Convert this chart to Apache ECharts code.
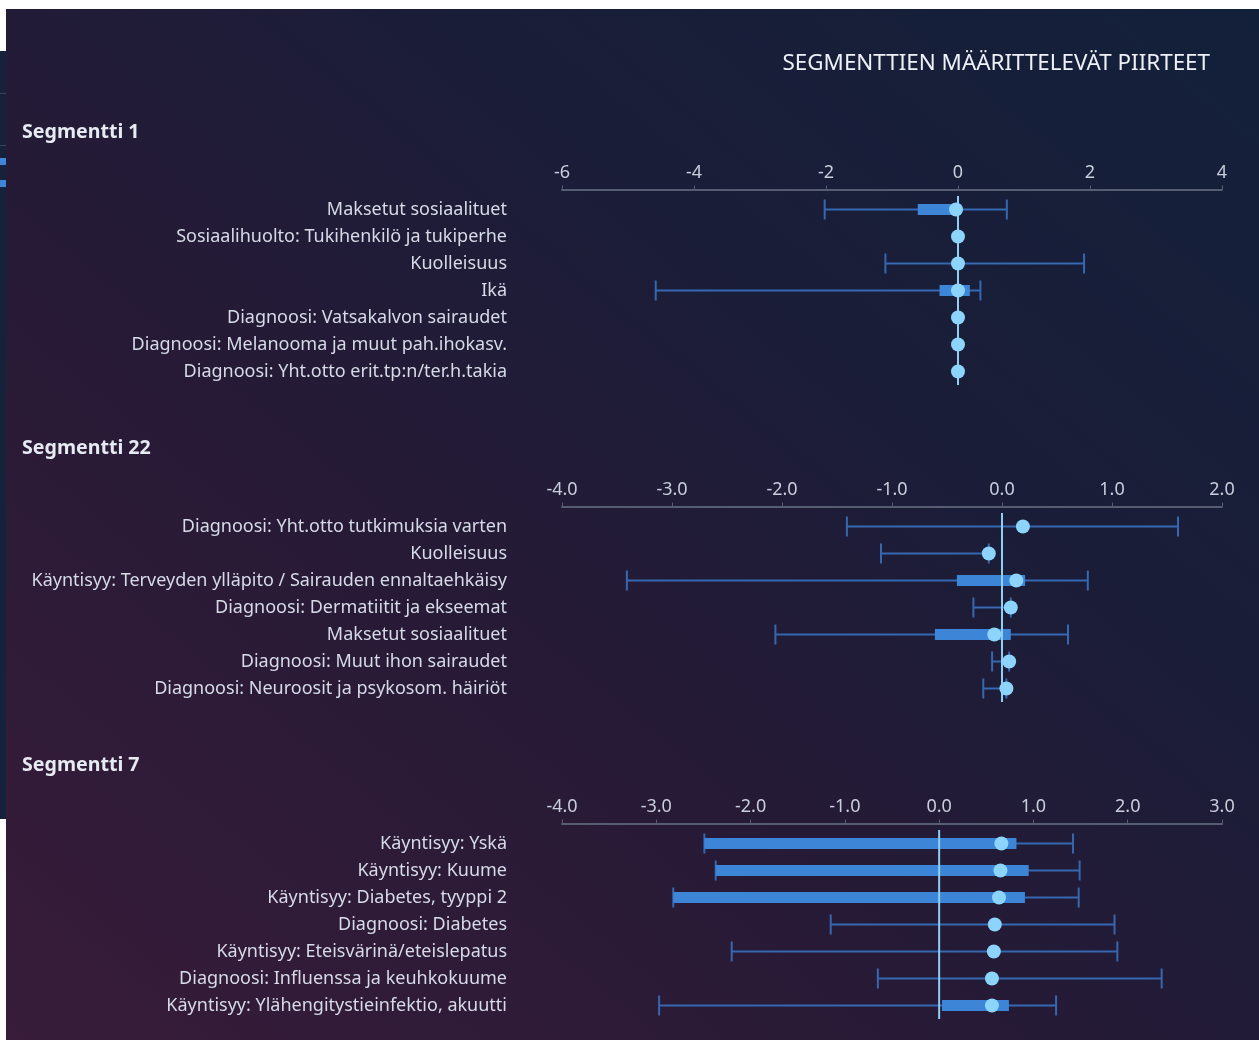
<!DOCTYPE html>
<html>
<head>
<meta charset="utf-8">
<title>Segmenttien määrittelevät piirteet</title>
<script src="https://cdn.jsdelivr.net/npm/echarts@6/dist/echarts.min.js"></script>
<style>
  html, body { margin: 0; padding: 0; background: #fff; width: 1259px; height: 1040px; overflow: hidden; }
  #side { position: absolute; left: 0; top: 51px; width: 6px; height: 768px; background: #16213a; }
  .sl { position: absolute; left: 0; width: 6px; height: 1px; background: #3d4458; }
  .sb { position: absolute; left: 0; width: 6px; height: 7px; background: #3d86d9; }
  #chart {
    position: absolute; left: 6px; top: 9px; width: 1253px; height: 1031px;
    background: linear-gradient(to top right, #381c39 0%, #261a36 40%, #1b1d38 65%, #13203a 100%);
  }
</style>
</head>
<body>
<div id="side">
  <div class="sl" style="top:42px"></div>
  <div class="sl" style="top:94px"></div>
  <div class="sb" style="top:107px"></div>
  <div class="sb" style="top:129px"></div>
</div>
<div id="chart"></div>
<script>
// Segmentti 1
const seg1Labels = ['Maksetut sosiaalituet', 'Sosiaalihuolto: Tukihenkilö ja tukiperhe', 'Kuolleisuus', 'Ikä',
  'Diagnoosi: Vatsakalvon sairaudet', 'Diagnoosi: Melanooma ja muut pah.ihokasv.', 'Diagnoosi: Yht.otto erit.tp:n/ter.h.takia']
const seg1Point = [-0.03, 0, 0, 0, 0, 0, 0]
const seg1Low = [-2.02, 0, -1.1, -4.58, 0, 0, 0]
const seg1High = [0.74, 0, 1.91, 0.34, 0, 0, 0]
const seg1BarLow = [-0.61, null, null, -0.28, null, null, null]
const seg1BarHigh = [0, null, null, 0.18, null, null, null]
const seg1Ticks = [-6, 4, 2]

// Segmentti 22
const seg22Labels = ['Diagnoosi: Yht.otto tutkimuksia varten', 'Kuolleisuus',
  'Käyntisyy: Terveyden ylläpito / Sairauden ennaltaehkäisy', 'Diagnoosi: Dermatiitit ja ekseemat',
  'Maksetut sosiaalituet', 'Diagnoosi: Muut ihon sairaudet', 'Diagnoosi: Neuroosit ja psykosom. häiriöt']
const seg22Point = [0.19, -0.12, 0.13, 0.08, -0.07, 0.065, 0.04]
const seg22Low = [-1.41, -1.10, -3.41, -0.26, -2.06, -0.09, -0.17]
const seg22High = [1.60, -0.12, 0.78, 0.08, 0.60, 0.065, 0.04]
const seg22BarLow = [null, null, -0.41, null, -0.61, null, null]
const seg22BarHigh = [null, null, 0.21, null, 0.08, null, null]
const seg22Ticks = [-4, 2, 1]

// Segmentti 7
const seg7Labels = ['Käyntisyy: Yskä', 'Käyntisyy: Kuume', 'Käyntisyy: Diabetes, tyyppi 2', 'Diagnoosi: Diabetes',
  'Käyntisyy: Eteisvärinä/eteislepatus', 'Diagnoosi: Influenssa ja keuhkokuume', 'Käyntisyy: Ylähengitystieinfektio, akuutti']
const seg7Point = [0.66, 0.65, 0.635, 0.59, 0.58, 0.56, 0.56]
const seg7Low = [-2.49, -2.37, -2.82, -1.15, -2.20, -0.65, -2.97]
const seg7High = [1.42, 1.49, 1.48, 1.86, 1.89, 2.36, 1.24]
const seg7BarLow = [-2.49, -2.37, -2.82, null, null, null, 0.03]
const seg7BarHigh = [0.82, 0.95, 0.91, null, null, null, 0.74]
const seg7Ticks = [-4, 3, 1]

const segNames = ['Segmentti 1', 'Segmentti 22', 'Segmentti 7']

const FONT = 'Noto Sans'
const segs = [
  {labels: seg1Labels, point: seg1Point, low: seg1Low, high: seg1High, bl: seg1BarLow, bh: seg1BarHigh, ticks: seg1Ticks, top: 187, dec: 0},
  {labels: seg22Labels, point: seg22Point, low: seg22Low, high: seg22High, bl: seg22BarLow, bh: seg22BarHigh, ticks: seg22Ticks, top: 504, dec: 1},
  {labels: seg7Labels, point: seg7Point, low: seg7Low, high: seg7High, bl: seg7BarLow, bh: seg7BarHigh, ticks: seg7Ticks, top: 821, dec: 1}
]
const titleTops = [113, 429, 746]

let chart = echarts.init(document.getElementById('chart'))

// one row: whisker + caps + optional thick bar. data = [low, idx, high, barLow, barHigh]
function renderRow(params, api) {
  let y = api.value(1)
  let lo = api.coord([api.value(0), y])
  let hi = api.coord([api.value(2), y])
  let st = {stroke: '#3568b1', lineWidth: 2}
  let children = [
    {type: 'line', shape: {x1: lo[0], y1: lo[1], x2: hi[0], y2: hi[1]}, style: st},
    {type: 'line', shape: {x1: lo[0], y1: lo[1] - 10, x2: lo[0], y2: lo[1] + 10}, style: st},
    {type: 'line', shape: {x1: hi[0], y1: hi[1] - 10, x2: hi[0], y2: hi[1] + 10}, style: st}
  ]
  let b0v = api.value(3), b1v = api.value(4)
  if (!isNaN(b0v) && !isNaN(b1v)) {
    let b0 = api.coord([b0v, y])
    let b1 = api.coord([b1v, y])
    children.push({type: 'rect', shape: {x: b0[0], y: b0[1] - 5.5, width: b1[0] - b0[0], height: 11}, style: {fill: '#3d85d7'}})
  }
  return {type: 'group', children: children}
}

// zero line over the full band range. data = [0, firstIdx, lastIdx]
function renderZero(params, api) {
  let band = api.size([0, 1])[1]
  let p0 = api.coord([api.value(0), api.value(1)])
  let p1 = api.coord([api.value(0), api.value(2)])
  return {
    type: 'line',
    shape: {x1: p0[0], y1: p0[1] - band / 2, x2: p1[0], y2: p1[1] + band / 2},
    style: {stroke: '#8ed0f4', lineWidth: 2}
  }
}

let grid = [], xAxis = [], yAxis = [], series = []
segs.forEach((s, i) => {
  grid.push({left: 556, right: 37, top: s.top, height: 189})
  xAxis.push({
    type: 'value', gridIndex: i, position: 'top', offset: 6.5,
    min: s.ticks[0], max: s.ticks[1], interval: s.ticks[2],
    axisLine: {show: true, lineStyle: {color: '#565d70', width: 2}},
    axisTick: {show: true, length: 4, lineStyle: {color: '#565d70'}},
    splitLine: {show: false},
    axisLabel: {
      color: '#c8cedc', fontSize: 18, fontFamily: FONT, margin: 8,
      formatter: v => (Math.abs(v) < 1e-9 ? 0 : v).toFixed(s.dec)
    }
  })
  yAxis.push({
    type: 'category', gridIndex: i, inverse: true, data: s.labels,
    axisLine: {show: false}, axisTick: {show: false},
    axisLabel: {color: '#d6dbe7', fontSize: 18, fontFamily: FONT, margin: 55}
  })
  series.push({
    type: 'custom', xAxisIndex: i, yAxisIndex: i, silent: true,
    renderItem: renderRow,
    data: s.labels.map((l, k) => [s.low[k], k, s.high[k], s.bl[k] == null ? '-' : s.bl[k], s.bh[k] == null ? '-' : s.bh[k]]),
    z: 2
  })
  series.push({
    type: 'custom', xAxisIndex: i, yAxisIndex: i, silent: true,
    renderItem: renderZero,
    data: [[0, 0, s.labels.length - 1]],
    z: 3
  })
  series.push({
    type: 'scatter', xAxisIndex: i, yAxisIndex: i, silent: true,
    symbolSize: 14, itemStyle: {color: '#8cd4fb', opacity: 1},
    data: s.point.map((v, k) => [v, k]),
    z: 6
  })
})

let title = [{
  text: 'SEGMENTTIEN MÄÄRITTELEVÄT PIIRTEET', right: 49, top: 44, padding: 0,
  textStyle: {color: '#eef2f8', fontSize: 22.4, fontWeight: 'normal', fontFamily: FONT}
}]
segNames.forEach((n, i) => {
  title.push({
    text: n, left: 16, top: titleTops[i], padding: 0,
    textStyle: {color: '#e6eaf3', fontSize: 19.6, fontWeight: 'bold', fontFamily: FONT}
  })
})

chart.setOption({
  backgroundColor: 'transparent',
  animation: false,
  title: title,
  grid: grid,
  xAxis: xAxis,
  yAxis: yAxis,
  series: series
})
</script>
</body>
</html>
